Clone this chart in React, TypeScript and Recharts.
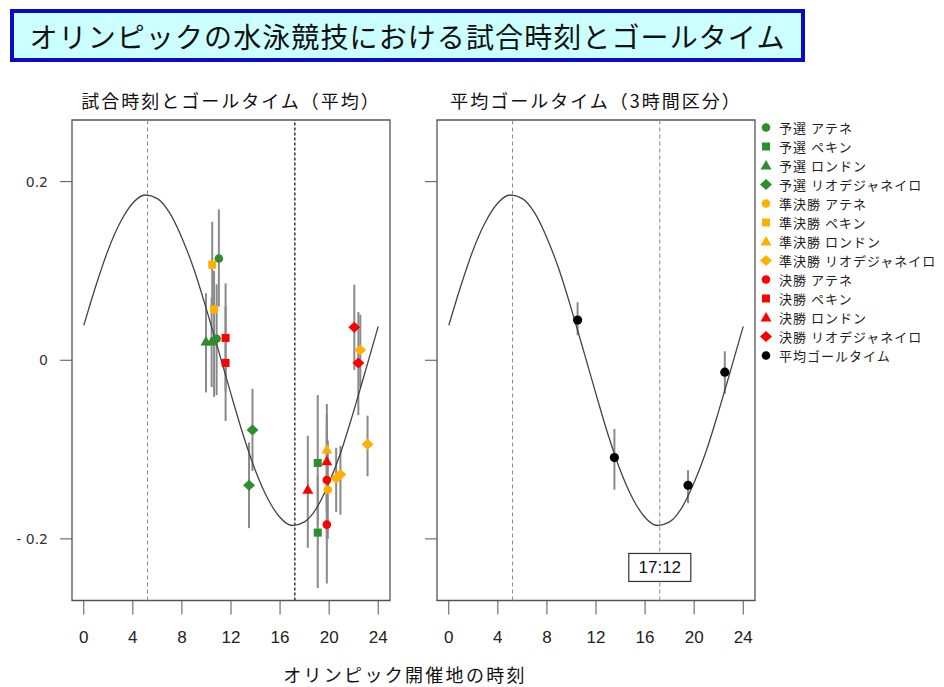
import React from 'react';
import { ComposedChart, Line, Scatter, XAxis, YAxis, ReferenceLine, ReferenceArea, ErrorBar } from 'recharts';

// fitted curve, one value per hour
const curveHours = [0, 1, 2, 3, 4, 5, 6, 7, 8, 9, 10, 11, 12, 13, 14, 15, 16, 17, 18, 19, 20, 21, 22, 23, 24];
const curveValues = [0.039, 0.084, 0.124, 0.155, 0.176, 0.185, 0.181, 0.165, 0.137, 0.101, 0.057, 0.010, -0.038, -0.084, -0.124, -0.155, -0.176, -0.185, -0.181, -0.165, -0.137, -0.101, -0.057, -0.010, 0.038];

const xTicks = [0, 4, 8, 12, 16, 20, 24];
const yTicks = [-0.2, 0, 0.2];
const yTickLabels = ['- 0.2', '0', '0.2'];
const xDomain = [-0.96, 24.96];
const yDomain = [-0.269, 0.269];
const peakHours = [5.2, 17.2];

// [hour, value, low, high]
const yosenAthens = [[11.01, 0.114, 0.060, 0.169], [10.83, 0.024, -0.039, 0.085]];
const yosenBeijing = [[19.07, -0.115, -0.185, -0.039], [19.07, -0.193, -0.255, -0.130]];
const yosenLondon = [[9.96, 0.021, -0.036, 0.075], [10.42, 0.021, -0.030, 0.070]];
const yosenRio = [[13.75, -0.078, -0.124, -0.032], [13.47, -0.140, -0.188, -0.092]];
const semiAthens = [[19.89, -0.145, -0.200, -0.090]];
const semiBeijing = [[10.47, 0.107, 0.060, 0.155], [10.62, 0.057, -0.041, 0.100]];
const semiLondon = [[19.81, -0.100, -0.160, -0.049]];
const semiRio = [[20.57, -0.132, -0.170, -0.098], [20.92, -0.128, -0.173, -0.096], [22.54, 0.0115, -0.030, 0.051], [23.13, -0.094, -0.130, -0.062]];
const finalAthens = [[19.81, -0.134, -0.200, -0.070], [19.81, -0.184, -0.250, -0.120]];
const finalBeijing = [[11.56, 0.025, -0.035, 0.086], [11.56, -0.003, -0.068, 0.060]];
const finalLondon = [[18.26, -0.145, -0.210, -0.0845], [19.81, -0.113, -0.170, -0.060]];
const finalRio = [[22.05, 0.037, -0.011, 0.0845], [22.38, -0.003, -0.0615, 0.054]];
const avgGoal = [[10.5, 0.045, 0.028, 0.065], [13.5, -0.109, -0.145, -0.077], [19.5, -0.140, -0.160, -0.123], [22.5, -0.0134, -0.0375, 0.010]];

const minLabel = [{ x: 17.2, y: -0.232, text: '17:12' }];

const GREEN = '#2b8f2b';
const ORANGE = '#ffb000';
const RED = '#ff0000';
const BLACK = '#000000';

const leftSeries = [
  { name: '予選 アテネ', shape: 'circle', color: GREEN, pts: yosenAthens },
  { name: '予選 ペキン', shape: 'square', color: GREEN, pts: yosenBeijing },
  { name: '予選 ロンドン', shape: 'triangle', color: GREEN, pts: yosenLondon },
  { name: '予選 リオデジャネイロ', shape: 'diamond', color: GREEN, pts: yosenRio },
  { name: '準決勝 アテネ', shape: 'circle', color: ORANGE, pts: semiAthens },
  { name: '準決勝 ペキン', shape: 'square', color: ORANGE, pts: semiBeijing },
  { name: '準決勝 ロンドン', shape: 'triangle', color: ORANGE, pts: semiLondon },
  { name: '準決勝 リオデジャネイロ', shape: 'diamond', color: ORANGE, pts: semiRio },
  { name: '決勝 アテネ', shape: 'circle', color: RED, pts: finalAthens },
  { name: '決勝 ペキン', shape: 'square', color: RED, pts: finalBeijing },
  { name: '決勝 ロンドン', shape: 'triangle', color: RED, pts: finalLondon },
  { name: '決勝 リオデジャネイロ', shape: 'diamond', color: RED, pts: finalRio },
];
const avgSeries = { name: '平均ゴールタイム', shape: 'circle', color: BLACK, pts: avgGoal };

const curveData = curveHours.map((h, i) => ({ x: h, y: curveValues[i] }));
const toRows = (pts: number[][]) => pts.map(([x, y, lo, hi]) => ({ x, y, err: [y - lo, hi - y] }));

const Marker = ({ cx, cy, shape, color, big }: any) => {
  if (cx == null || cy == null) return <g />;
  if (shape === 'square') return <rect x={cx - 4} y={cy - 4} width={8} height={8} fill={color} />;
  if (shape === 'triangle')
    return <polygon points={`${cx},${cy - 5.5} ${cx + 5.5},${cy + 4} ${cx - 5.5},${cy + 4}`} fill={color} />;
  if (shape === 'diamond')
    return <polygon points={`${cx},${cy - 5.5} ${cx + 6},${cy} ${cx},${cy + 5.5} ${cx - 6},${cy}`} fill={color} />;
  return <circle cx={cx} cy={cy} r={big ? 4.6 : 4.3} fill={color} />;
};

const TimeBox = (props: any) => {
  const { cx, cy, payload } = props;
  if (cx == null) return <g />;
  return (
    <g>
      <rect x={cx - 31} y={cy - 14} width={62} height={28} fill="#fff" stroke="#333" strokeWidth={1.2} />
      <text x={cx} y={cy + 6} textAnchor="middle" fontSize={17} fontFamily="Liberation Sans, Arial" fill="#111">
        {payload.text}
      </text>
    </g>
  );
};

const Panel = ({ series, showLabels, width, margin, yWidth, avg }: any) => {
  const allPts = series.flatMap((s: any) => s.pts);
  return (
    <ComposedChart width={width} height={687} margin={margin}>
      <XAxis
        type="number"
        dataKey="x"
        domain={xDomain}
        ticks={xTicks}
        allowDataOverflow
        axisLine={false}
        tickSize={14}
        tickMargin={16}
        height={40}
        tickLine={{ stroke: '#555' }}
        tick={{ fontSize: 17, fill: '#222', fontFamily: 'Liberation Sans, Arial' }}
      />
      <YAxis
        type="number"
        dataKey="y"
        domain={yDomain}
        ticks={yTicks}
        allowDataOverflow
        width={yWidth}
        axisLine={false}
        tickSize={12}
        tickMargin={12}
        tickLine={{ stroke: '#555' }}
        tickFormatter={(v: number) => (showLabels ? yTickLabels[yTicks.indexOf(v)] ?? '' : '')}
        tick={{ fontSize: 14, fill: '#333', fontFamily: 'DejaVu Sans' }}
      />
      <ReferenceArea x1={xDomain[0]} x2={xDomain[1]} y1={yDomain[0]} y2={yDomain[1]} fill="none" stroke="#555" strokeWidth={1.3} />
      {peakHours.map((h, i) => (
        <ReferenceLine
          key={h}
          x={h}
          stroke={showLabels && i === 1 ? '#444' : '#888'}
          strokeWidth={showLabels && i === 1 ? 1.6 : 1}
          strokeDasharray={showLabels && i === 1 ? '3 2' : '4 3'}
        />
      ))}
      <Scatter data={toRows(allPts)} dataKey="y" shape={() => <g />} isAnimationActive={false}>
        <ErrorBar dataKey="err" direction="y" width={0} stroke="#8a8a8a" strokeWidth={2} />
      </Scatter>
      <Line data={curveData} dataKey="y" type="monotone" stroke="#444" strokeWidth={1.3} dot={false} isAnimationActive={false} />
      {series.map((s: any) => (
        <Scatter
          key={s.name}
          name={s.name}
          data={toRows(s.pts)}
          dataKey="y"
          isAnimationActive={false}
          shape={(p: any) => <Marker cx={p.cx} cy={p.cy} shape={s.shape} color={s.color} big={avg} />}
        />
      ))}
      {avg && <Scatter data={minLabel} dataKey="y" shape={TimeBox} isAnimationActive={false} />}
    </ComposedChart>
  );
};

const legendItems = [...leftSeries, avgSeries];

export default function App() {
  return (
    <div
      style={{
        position: 'absolute',
        left: 0,
        top: 0,
        width: 944,
        height: 687,
        background: '#fff',
        overflow: 'hidden',
        fontFamily: '"Noto Sans CJK JP", sans-serif',
        color: '#111',
      }}
    >
      <div
        style={{
          position: 'absolute',
          left: 10,
          top: 9,
          width: 795,
          height: 53,
          boxSizing: 'border-box',
          border: '4px solid #0b0bc4',
          background: '#ccffff',
          display: 'flex',
          alignItems: 'center',
          justifyContent: 'center',
          fontSize: 28,
          letterSpacing: 1.1,
          lineHeight: '30px',
        }}
      >
        オリンピックの水泳競技における試合時刻とゴールタイム
      </div>

      <div style={{ position: 'absolute', left: 72, width: 318, top: 90, textAlign: 'center', fontSize: 18, letterSpacing: 2, lineHeight: '20px' }}>
        試合時刻とゴールタイム（平均）
      </div>
      <div style={{ position: 'absolute', left: 437, width: 318, top: 90, textAlign: 'center', fontSize: 18, letterSpacing: 2, lineHeight: '20px' }}>
        平均ゴールタイム（3時間区分）
      </div>

      <div style={{ position: 'absolute', left: 0, top: 0 }}>
        <Panel series={leftSeries} showLabels width={400} yWidth={60} margin={{ top: 120, right: 10, bottom: 46.5, left: 12 }} />
      </div>
      <div style={{ position: 'absolute', left: 400, top: 0 }}>
        <Panel series={[avgSeries]} avg width={360} yWidth={25} margin={{ top: 120, right: 5, bottom: 46.5, left: 12 }} />
      </div>

      <div style={{ position: 'absolute', left: 760, top: 118 }}>
        {legendItems.map((s) => (
          <div key={s.name} style={{ display: 'flex', alignItems: 'center', height: 19 }}>
            <svg width={19} height={19}>
              <Marker cx={6} cy={9.5} shape={s.shape} color={s.color} />
            </svg>
            <span style={{ fontSize: 13, letterSpacing: 1, lineHeight: '19px', color: '#222', whiteSpace: 'nowrap' }}>{s.name}</span>
          </div>
        ))}
      </div>

      <div style={{ position: 'absolute', left: 250, width: 310, top: 664, textAlign: 'center', fontSize: 18, letterSpacing: 2.3, lineHeight: '20px' }}>
        オリンピック開催地の時刻
      </div>
    </div>
  );
}
